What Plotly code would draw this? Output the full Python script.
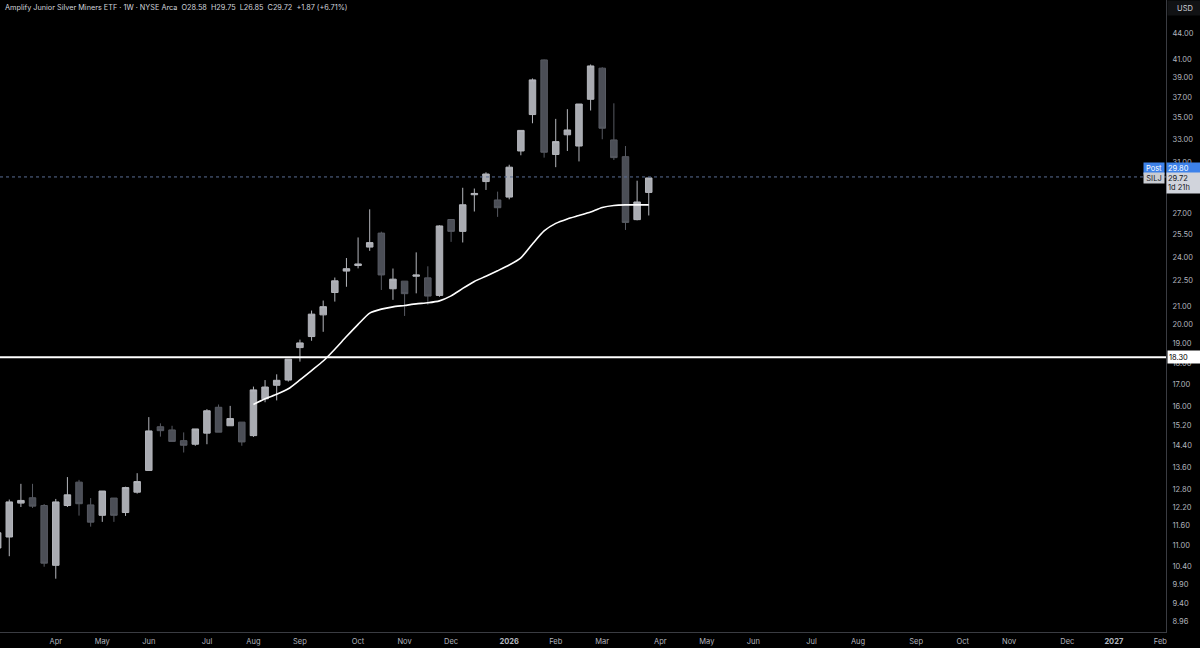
import numpy as np
import pandas as pd
import plotly.graph_objects as go

# ---------------- data ----------------
START_WEEK = "2025-02-24"
OPEN = [10.92, 11.25, 12.33, 12.51, 12.25, 10.42, 12.25, 13.05, 12.27, 11.93,
        12.50, 12.02, 12.70, 13.47, 15.16, 15.03, 14.60, 14.46, 14.90, 15.98,
        15.20, 15.35, 14.80, 16.35, 16.96, 17.20, 18.78, 19.35, 20.52, 21.80,
        23.10, 23.45, 24.65, 25.60, 22.02, 22.48, 22.78, 22.68, 21.63, 26.56,
        25.72, 28.40, 29.43, 28.00, 28.22, 31.97, 35.28, 40.90, 31.67, 33.40,
        32.40, 36.77, 40.00, 32.94, 31.48, 26.55, 28.58]
HIGH = [11.45, 12.45, 12.99, 12.99, 12.30, 12.47, 13.23, 13.13, 12.50, 12.74,
        12.50, 12.89, 13.37, 15.56, 15.30, 15.20, 14.93, 15.07, 15.90, 16.10,
        16.04, 15.35, 16.90, 17.20, 17.47, 18.20, 19.19, 20.76, 21.33, 22.70,
        23.93, 25.30, 27.30, 25.70, 23.26, 22.48, 24.30, 23.40, 26.15, 26.56,
        28.94, 28.88, 30.18, 28.64, 30.80, 33.80, 38.90, 40.95, 34.87, 35.80,
        36.30, 40.40, 40.10, 36.37, 32.40, 29.50, 29.75]
LOW = [10.80, 10.68, 12.20, 12.17, 10.38, 10.05, 12.20, 11.92, 11.57, 11.72,
       11.72, 11.91, 12.65, 13.47, 14.76, 14.57, 14.14, 14.40, 14.46, 14.94,
       15.20, 14.40, 14.75, 16.20, 16.28, 17.13, 18.08, 19.13, 19.60, 21.27,
       22.14, 23.27, 24.40, 21.95, 21.37, 20.46, 21.75, 21.09, 21.55, 25.00,
       24.96, 27.14, 28.77, 26.75, 28.05, 31.60, 34.46, 31.40, 30.60, 31.97,
       31.08, 35.67, 33.00, 31.20, 25.82, 26.50, 26.85]
CLOSE = [11.38, 12.37, 12.42, 12.23, 10.48, 12.37, 12.61, 12.31, 11.71, 12.74,
         11.93, 12.86, 13.07, 14.99, 15.00, 14.57, 14.42, 15.07, 15.83, 14.94,
         15.50, 14.55, 16.75, 16.88, 17.19, 18.20, 19.02, 20.56, 20.98, 22.50,
         23.25, 23.55, 24.95, 22.86, 22.60, 21.73, 22.86, 21.59, 26.10, 25.72,
         27.64, 28.50, 30.04, 27.42, 30.60, 33.80, 38.75, 31.86, 32.79, 33.84,
         36.30, 40.24, 34.00, 31.40, 26.35, 27.85, 29.72]

MA_START_INDEX = 22
MA = [16.10, 16.35, 16.55, 16.80, 17.21, 17.65, 18.11, 18.70, 19.35, 20.00,
      20.62, 20.84, 20.97, 21.05, 21.14, 21.20, 21.31, 21.60, 22.04, 22.46,
      22.78, 23.12, 23.48, 23.94, 24.86, 25.75, 26.28, 26.60, 26.85, 27.11,
      27.44, 27.59, 27.63, 27.63, 27.63]

LEVEL = 18.30
POST_PRICE = 29.80
LAST_PRICE = 29.72

Y_TICKS = [44.00, 41.00, 39.00, 37.00, 35.00, 33.00, 31.00, 27.00, 25.50, 24.00,
           22.50, 21.00, 20.00, 19.00, 18.00, 17.00, 16.00, 15.20, 14.40, 13.60,
           12.80, 12.20, 11.60, 11.00, 10.40, 9.90, 9.40, 8.96]

X_TICK_DATES = ["2025-02-24", "2025-03-31", "2025-04-28", "2025-05-26", "2025-06-30",
                "2025-07-28", "2025-08-25", "2025-09-29", "2025-10-27", "2025-11-24",
                "2025-12-29", "2026-01-26", "2026-02-23", "2026-03-30", "2026-04-27",
                "2026-05-25", "2026-06-29", "2026-07-27", "2026-08-31", "2026-09-28",
                "2026-10-26", "2026-11-30", "2026-12-28", "2027-01-25"]
X_TICK_TEXT = ["Mar", "Apr", "May", "Jun", "Jul", "Aug", "Sep", "Oct", "Nov", "Dec",
               "<b>2026</b>", "Feb", "Mar", "Apr", "May", "Jun", "Jul", "Aug", "Sep",
               "Oct", "Nov", "Dec", "<b>2027</b>", "Feb"]

TITLE = ("Amplify Junior Silver Miners ETF · 1W · NYSE Arca  "
         "O28.58  H29.75  L26.85  C29.72  +1.87 (+6.71%)")

X_RANGE = ["2025-02-25 10:00", "2027-01-28 10:00"]
Y_MIN, Y_MAX = 8.70, 48.1

# ---------------- figure ----------------
dates = pd.date_range(START_WEEK, periods=len(OPEN), freq="7D")
FONT = "Inter, Roboto, sans-serif"
TXT = "#b2b5be"

fig = go.Figure()
fig.add_trace(go.Scatter(x=X_RANGE, y=[LEVEL, LEVEL], mode="lines",
                         line=dict(color="#ffffff", width=2), hoverinfo="skip",
                         showlegend=False))
fig.add_trace(go.Scatter(x=X_RANGE, y=[POST_PRICE, POST_PRICE], mode="lines",
                         line=dict(color="#5a6d94", width=1, dash="dot"),
                         hoverinfo="skip", showlegend=False))
fig.add_trace(go.Candlestick(
    x=dates, open=OPEN, high=HIGH, low=LOW, close=CLOSE,
    increasing=dict(fillcolor="#a9abb1", line=dict(color="#b4b6bc", width=1)),
    decreasing=dict(fillcolor="#4b4e56", line=dict(color="#575a62", width=1)),
    whiskerwidth=0, showlegend=False))
fig.add_trace(go.Scatter(x=dates[MA_START_INDEX:], y=MA, mode="lines",
                         line=dict(color="#ffffff", width=1.6, shape="spline",
                                   smoothing=0.6),
                         hoverinfo="skip", showlegend=False))

lmin, lmax = np.log10(Y_MIN), np.log10(Y_MAX)


def yfrac(v):
    return (np.log10(v) - lmin) / (lmax - lmin)


fig.update_layout(
    width=1200, height=648,
    margin=dict(l=0, r=34, t=0, b=16),
    paper_bgcolor="#000000", plot_bgcolor="#000000",
    font=dict(family=FONT, size=7.5, color=TXT),
    boxgap=0.2,
    xaxis=dict(type="date", range=X_RANGE, tickvals=X_TICK_DATES, ticktext=X_TICK_TEXT,
               showgrid=False, zeroline=False, showline=True, linecolor="#3a3c42",
               linewidth=1, ticks="", rangeslider=dict(visible=False),
               ticklabelstandoff=2, tickfont=dict(size=7.5, color=TXT)),
    yaxis=dict(type="log", side="right", range=[lmin, lmax], tickvals=Y_TICKS,
               ticktext=[f"{v:.2f}" for v in Y_TICKS], showgrid=False, zeroline=False,
               showline=True, linecolor="#3a3c42", linewidth=1, ticks="",
               ticklabelstandoff=4, tickfont=dict(size=7.5, color=TXT)),
)

ann = []
ann.append(dict(x=0, y=1, xref="paper", yref="paper", xanchor="left", yanchor="top",
                xshift=3, yshift=-1, text=TITLE, showarrow=False,
                font=dict(size=7.3, color="#d1d4dc", family=FONT)))
ann.append(dict(x=1, y=1, xref="paper", yref="paper", xanchor="left", yanchor="top",
                xshift=1, text="USD", showarrow=False, bgcolor="#111214",
                width=32, height=12, font=dict(size=7.5, color="#d1d4dc", family=FONT)))
ann.append(dict(x=1, y=yfrac(LEVEL), xref="paper", yref="paper", xanchor="left",
                yanchor="middle", xshift=1, text=f"{LEVEL:.2f}", showarrow=False,
                bgcolor="#ffffff", width=30, height=10, align="left",
                font=dict(size=7.5, color="#000000", family=FONT)))
ann.append(dict(x=1, y=yfrac(POST_PRICE), xref="paper", yref="paper", xanchor="right",
                yanchor="middle", yshift=8, xshift=-1, text="Post", showarrow=False,
                bgcolor="#3d82ea", width=18, height=9,
                font=dict(size=7.5, color="#ffffff", family=FONT)))
ann.append(dict(x=1, y=yfrac(POST_PRICE), xref="paper", yref="paper", xanchor="left",
                yanchor="middle", yshift=8, xshift=0, text=f"{POST_PRICE:.2f}",
                showarrow=False, bgcolor="#3d82ea", width=33, height=9, align="left",
                font=dict(size=7.5, color="#ffffff", family=FONT)))
ann.append(dict(x=1, y=yfrac(LAST_PRICE), xref="paper", yref="paper", xanchor="right",
                yanchor="middle", xshift=-1, yshift=0, text="SILJ", showarrow=False,
                bgcolor="#c9ccd2", width=18, height=8,
                font=dict(size=7.5, color="#131722", family=FONT)))
ann.append(dict(x=1, y=yfrac(LAST_PRICE), xref="paper", yref="paper", xanchor="left",
                yanchor="top", yshift=6, xshift=0, text=f"{LAST_PRICE:.2f}<br>1d 21h",
                showarrow=False, bgcolor="#d1d4dc", width=33, height=18, align="left",
                font=dict(size=7.5, color="#131722", family=FONT)))
fig.update_layout(annotations=ann)

fig.write_html("out.html", config={"displayModeBar": False},
               post_script="document.body.style.margin='0';")
